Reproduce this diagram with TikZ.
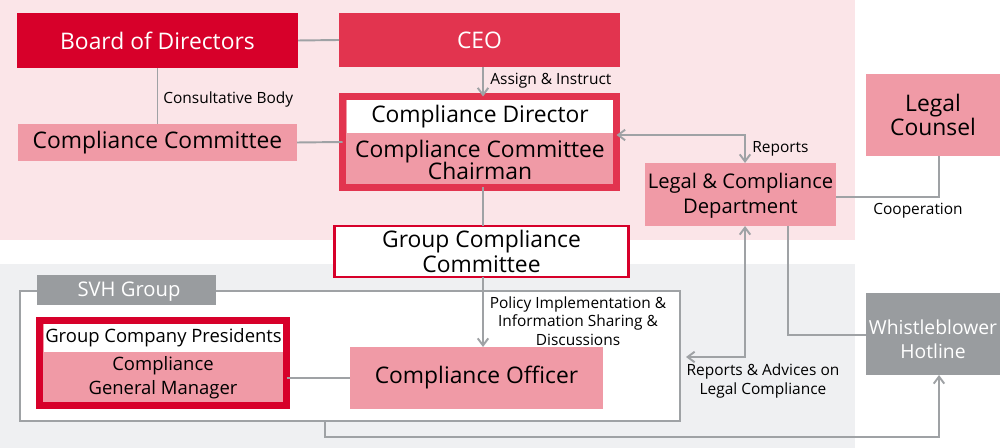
\documentclass[tikz,border=0pt]{standalone}
\usepackage{fontspec}
\setmainfont{Open Sans}
\usetikzlibrary{arrows.meta,positioning}

\definecolor{boardred}{HTML}{D7002A}
\definecolor{ceored}{HTML}{E2344F}
\definecolor{boxpink}{HTML}{F09AA6}
\definecolor{bandpink}{HTML}{FBE5E8}
\definecolor{bandgray}{HTML}{EFF0F2}
\definecolor{tabgray}{HTML}{999C9F}
\definecolor{linegray}{HTML}{9FA2A5}

\newcommand{\bigtext}{\fontsize{13}{15}\selectfont}
\newcommand{\midtext}{\fontsize{11.5}{14}\selectfont}
\newcommand{\presstext}{\fontsize{10.5}{13.5}\selectfont}
\newcommand{\smalltext}{\fontsize{8.8}{10.6}\selectfont}

\tikzset{
  boxsize/.style 2 args={minimum width=#1*0.02cm, minimum height=#2*0.02cm},
  orgbox/.style={inner sep=0pt, outer sep=0pt, align=center},
  link/.style={draw=linegray, line width=1.1pt},
  arr/.style={link, -{Straight Barb[length=4pt,width=6pt]}},
  arrboth/.style={link, {Straight Barb[length=4pt,width=6pt]}-{Straight Barb[length=4pt,width=6pt]}},
  note/.style={font=\smalltext, inner sep=0pt, align=center}
}

\begin{document}
\begin{tikzpicture}[x=0.02cm, y=-0.02cm]
  \useasboundingbox (0,0) rectangle (1000,448);
  % bands
  \fill[bandpink] (0,0) rectangle (855,240);
  \fill[bandgray] (0,264) rectangle (855,448);

  % top row
  \node[orgbox, boxsize={281}{55}, fill=boardred, text=white, font=\bigtext] (board) at (157.5,40.5) {Board of Directors};
  \node[orgbox, boxsize={281}{54}, fill=ceored, text=white, font=\bigtext] (ceo) at (479.5,40) {CEO};
  \node[orgbox, boxsize={279}{37}, fill=boxpink, font=\bigtext] (committee) at (157.5,142.5) {Compliance Committee};

  % compliance director
  \node[orgbox, boxsize={274}{91}, fill=boxpink, draw=ceored, line width=3.97pt] (dir) at (479.5,142) {};
  \node[orgbox, boxsize={266}{33}, fill=white, font=\bigtext] (dirtitle) at (480,116.5) {Compliance Director};
  \node[orgbox, font=\bigtext] (chair) at (480,159.5) {Compliance Committee\\[-2.5pt]Chairman};

  \node[orgbox, boxsize={294}{51}, fill=white, draw=boardred, line width=1.5pt, font=\bigtext] (grpcc) at (481.5,251.5) {Group Compliance\\[-1pt]Committee};

  % right side
  \node[orgbox, boxsize={191}{63}, fill=boxpink, font=\midtext] (legal) at (740.5,194.5) {};
  \node[orgbox, font=\midtext] (legaltext) at (740.5,196) {Legal \& Compliance\\Department};
  \node[orgbox, boxsize={134}{82}, fill=boxpink, font=\bigtext] (counsel) at (933,115) {Legal\\[-1pt]Counsel};
  \node[orgbox, boxsize={134}{82}, fill=tabgray] (hotline) at (933,334) {};
  \node[orgbox, text=white, font=\fontsize{11}{13.5}\selectfont] (hotlinetext) at (933,339.5) {Whistleblower\\Hotline};

  % SVH group
  \node[orgbox, boxsize={660}{130}, fill=white, draw=linegray, line width=1pt] (svh) at (350,356) {};
  \node[orgbox, boxsize={179}{30}, fill=tabgray, text=white, font=\midtext] (svhtab) at (126.5,290) {};
  \node[orgbox, text=white, font=\midtext] (svhtext) at (129,291.5) {SVH Group};
  \node[orgbox, boxsize={247}{85}, fill=boxpink, draw=boardred, line width=3.97pt] (pres) at (163,363) {};
  \node[orgbox, boxsize={239}{28}, fill=white, font=\presstext] (prestitle) at (163.5,338) {Group Company Presidents};
  \node[orgbox, font=\presstext] (gm) at (163,378) {Compliance\\General Manager};
  \node[orgbox, boxsize={253}{62}, fill=boxpink, font=\bigtext] (officer) at (476.5,378) {Compliance Officer};

  % helper points
  \coordinate (spine) at (483,0);
  \coordinate (rptcorner) at (745,135);
  \coordinate (coopcorner) at (939,197);
  \coordinate (advend) at (686,357);
  \coordinate (advcorner) at (745,357);
  \coordinate (hlcorner) at (788,335);
  \coordinate (botleft) at (325,437);
  \coordinate (botright) at (939,437);

  % connectors
  \draw[link] (board.east) -- (ceo.west);
  \draw[link] (board.south) -- (committee.north);
  \draw[link] (committee.east) -- (dir.west);
  \draw[arr] (ceo.south -| spine) -- (dir.north -| spine);
  \draw[link] (dir.south -| spine) -- (grpcc.north -| spine);
  \draw[arr] (grpcc.south -| spine) -- (officer.north -| spine);
  \draw[link] (pres.east |- officer.west) -- (officer.west);
  \draw[arrboth] (dir.east |- rptcorner) -- (rptcorner) -- (legal.north -| rptcorner);
  \draw[link] (legal.east |- coopcorner) -- (coopcorner) -- (counsel.south -| coopcorner);
  \draw[arrboth] (advend) -- (advcorner) -- (legal.south -| advcorner);
  \draw[link] (legal.south -| hlcorner) |- (hotline.west |- hlcorner);
  \draw[arr] (svh.south -| botleft) |- (botright) -- (hotline.south -| botright);

  % labels
  \node[note, anchor=west] (consult) at (163,99) {Consultative Body};
  \node[note, anchor=west] (assign) at (490,81) {Assign \& Instruct};
  \node[note, anchor=west] (reports) at (752,149) {Reports};
  \node[note] (coop) at (918,211) {Cooperation};
  \node[note] (policy) at (578,321) {Policy Implementation \&\\Information Sharing \&\\Discussions};
  \node[note] (advice) at (763,381) {Reports \& Advices on\\Legal Compliance};
\end{tikzpicture}
\end{document}
